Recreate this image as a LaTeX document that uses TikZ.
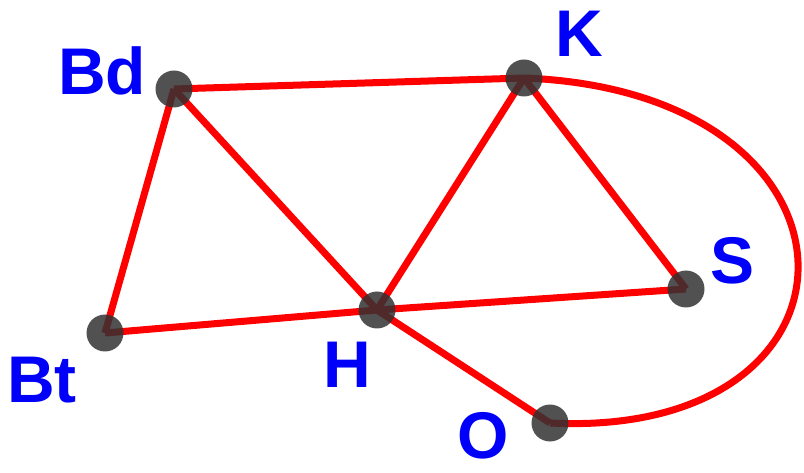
\documentclass[tikz,border=0pt]{standalone}
\usepackage{fontspec}
\setmainfont{Liberation Sans}
\usetikzlibrary{backgrounds}
\definecolor{edgered}{RGB}{255,0,0}
\definecolor{labelblue}{RGB}{0,0,250}
\definecolor{dotgray}{RGB}{50,50,50}
\tikzset{
  dot/.style={circle, fill=dotgray, fill opacity=0.85, minimum size=37pt, inner sep=0pt},
  edge/.style={draw=edgered, line width=7pt, line join=round},
  lbl/.style={text=labelblue, font=\fontsize{66}{66}\selectfont\bfseries, inner sep=0pt, anchor=base}
}
\begin{document}
\begin{tikzpicture}[x=1pt,y=-1pt]
\useasboundingbox (0,0) rectangle (804,473);
% vertices
\node[dot] (Bd) at (174,89) {};
\node[dot] (K)  at (524,78) {};
\node[dot] (S)  at (686,289) {};
\node[dot] (H)  at (377,310) {};
\node[dot] (Bt) at (105,333) {};
\node[dot] (O)  at (550,423) {};
% edges
\begin{pgfonlayer}{background}
\draw[edge] (Bd.center) -- (K.center);
\draw[edge] (Bd.center) -- (Bt.center);
\draw[edge] (Bd.center) -- (H.center);
\draw[edge] (K.center) -- (H.center);
\draw[edge] (K.center) -- (S.center);
\draw[edge] (H.center) -- (S.center);
\draw[edge] (Bt.center) -- (H.center);
\draw[edge] (H.center) -- (O.center);
\draw[edge] (K.center) .. controls (885,92) and (885,440) .. (O.center);
\end{pgfonlayer}
% labels
\node[lbl] (lBd) at (102,95) {Bd};
\node[lbl] (lK)  at (579,57) {K};
\node[lbl] (lS)  at (733,284) {S};
\node[lbl] (lH)  at (347,387) {H};
\node[lbl] (lBt) at (42,402) {Bt};
\node[lbl] (lO)  at (483,458) {O};
\end{tikzpicture}
\end{document}
